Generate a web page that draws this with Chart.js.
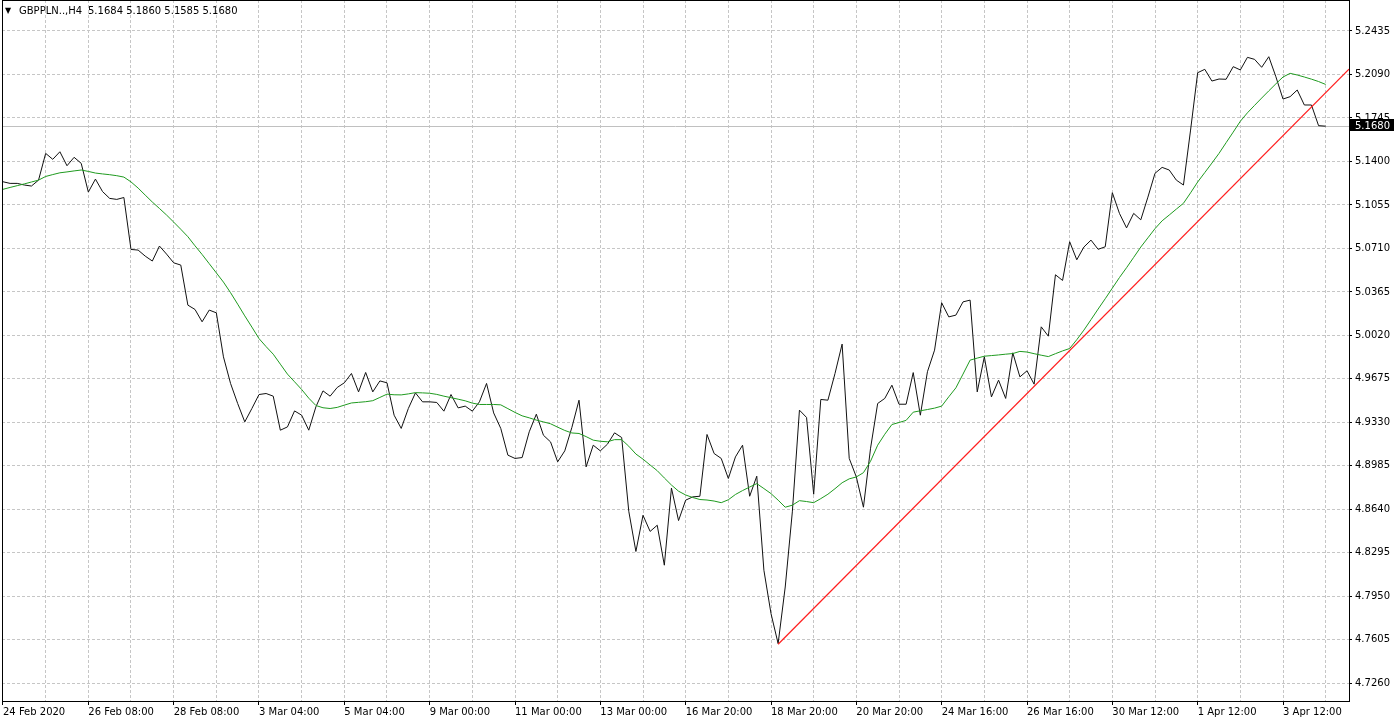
<!DOCTYPE html>
<html lang="en">
<head>
<meta charset="UTF-8">
<title>GBPPLN H4</title>
<script src="https://cdn.jsdelivr.net/npm/chart.js"></script>
<style>
  body { margin: 0; background: #fff; }
  .wrap { position: relative; width: 1400px; height: 722px; }
  .head { position: absolute; top: 5px; font: 10px/12px "DejaVu Sans", Tahoma, sans-serif; color: #000; white-space: pre; }
  .tri { left: 5px; font-size: 8px; }
</style>
</head>
<body>
<div class="wrap">
  <canvas id="grafico" width="1400" height="722"></canvas>
  <div class="head tri">▼</div>
  <div class="head" style="left:19px">GBPPLN..,H4</div>
  <div class="head" style="left:88px">5.1684 5.1860 5.1585 5.1680</div>
</div>

<script>
  // H4 closes, one per bar (bar 0 = 24 Feb 2020 00:00)
  const closes = [
    5.1239, 5.1226, 5.1226, 5.1213, 5.1205, 5.1252, 5.1464, 5.1417, 5.1477, 5.1366,
    5.1433, 5.1385, 5.1157, 5.1260, 5.1161, 5.1107, 5.1099, 5.1114, 5.0702, 5.0697,
    5.0649, 5.0610, 5.0729, 5.0665, 5.0596, 5.0578, 5.0260, 5.0226, 5.0128, 5.0221,
    5.0199, 4.9850, 4.9639, 4.9480, 4.9334, 4.9440, 4.9551, 4.9559, 4.9538, 4.9268,
    4.9294, 4.9421, 4.9387, 4.9268, 4.9453, 4.9580, 4.9538, 4.9607, 4.9644, 4.9718,
    4.9572, 4.9726, 4.9572, 4.9659, 4.9644, 4.9387, 4.9282, 4.9440, 4.9564, 4.9493,
    4.9493, 4.9488, 4.9419, 4.9551, 4.9445, 4.9459, 4.9419, 4.9493, 4.9639, 4.9405,
    4.9282, 4.9070, 4.9044, 4.9051, 4.9255, 4.9395, 4.9228, 4.9175, 4.9017, 4.9104,
    4.9290, 4.9506, 4.8977, 4.9149, 4.9104, 4.9157, 4.9247, 4.9210, 4.8625, 4.8306,
    4.8593, 4.8465, 4.8514, 4.8197, 4.8809, 4.8551, 4.8713, 4.8739, 4.8744, 4.9234,
    4.9083, 4.9044, 4.8885, 4.9056, 4.9149, 4.8744, 4.8903, 4.8157, 4.7813, 4.7575,
    4.8024, 4.8620, 4.9427, 4.9369, 4.8760, 4.9512, 4.9506, 4.9718, 4.9951, 4.9044,
    4.8897, 4.8657, 4.9125, 4.9480, 4.9520, 4.9625, 4.9474, 4.9474, 4.9725, 4.9387,
    4.9732, 4.9903, 5.0279, 5.0167, 5.0181, 5.0286, 5.0300, 4.9572, 4.9850, 4.9532,
    4.9665, 4.9520, 4.9882, 4.9691, 4.9739, 4.9633, 5.0088, 5.0014, 5.0501, 5.0456,
    5.0763, 5.0620, 5.0721, 5.0776, 5.0703, 5.0723, 5.1152, 5.0988, 5.0873, 5.0988,
    5.0937, 5.1117, 5.1306, 5.1353, 5.1332, 5.1252, 5.1213, 5.1649, 5.2104, 5.2131,
    5.2038, 5.2054, 5.2052, 5.2152, 5.2126, 5.2226, 5.2210, 5.2147, 5.2231, 5.2072,
    5.1895, 5.1914, 5.1967, 5.1848, 5.1848, 5.1684, 5.1680
  ];

  // moving average (green)
  const maValues = [
    5.1179, 5.1194, 5.1208, 5.1222, 5.1237, 5.1252, 5.1281, 5.1296, 5.1310, 5.1317,
    5.1325, 5.1332, 5.1321, 5.1308, 5.1301, 5.1295, 5.1287, 5.1276, 5.1238, 5.1189,
    5.1133, 5.1078, 5.1027, 5.0975, 5.0919, 5.0862, 5.0803, 5.0731, 5.0662, 5.0589,
    5.0516, 5.0443, 5.0359, 5.0268, 5.0175, 5.0086, 4.9995, 4.9931, 4.9871, 4.9792,
    4.9713, 4.9652, 4.9591, 4.9522, 4.9464, 4.9446, 4.9440, 4.9449, 4.9467, 4.9484,
    4.9489, 4.9494, 4.9502, 4.9528, 4.9554, 4.9549, 4.9548, 4.9556, 4.9566, 4.9564,
    4.9561, 4.9552, 4.9538, 4.9526, 4.9514, 4.9501, 4.9483, 4.9472, 4.9472, 4.9472,
    4.9469, 4.9439, 4.9409, 4.9382, 4.9366, 4.9348, 4.9334, 4.9319, 4.9292, 4.9266,
    4.9246, 4.9242, 4.9217, 4.9189, 4.9180, 4.9176, 4.9193, 4.9193, 4.9141, 4.9079,
    4.9038, 4.8992, 4.8947, 4.8889, 4.8833, 4.8784, 4.8754, 4.8734, 4.8718, 4.8714,
    4.8706, 4.8693, 4.8716, 4.8758, 4.8789, 4.8817, 4.8844, 4.8805, 4.8765, 4.8713,
    4.8657, 4.8673, 4.8709, 4.8702, 4.8693, 4.8725, 4.8760, 4.8804, 4.8851, 4.8882,
    4.8897, 4.8931, 4.9022, 4.9149, 4.9236, 4.9313, 4.9329, 4.9346, 4.9411, 4.9422,
    4.9432, 4.9443, 4.9459, 4.9533, 4.9604, 4.9713, 4.9824, 4.9840, 4.9855, 4.9860,
    4.9865, 4.9871, 4.9876, 4.9893, 4.9888, 4.9875, 4.9863, 4.9852, 4.9875, 4.9897,
    4.9916, 4.9986, 5.0062, 5.0145, 5.0229, 5.0311, 5.0395, 5.0479, 5.0557, 5.0639,
    5.0721, 5.0794, 5.0867, 5.0929, 5.0975, 5.1022, 5.1068, 5.1151, 5.1237, 5.1312,
    5.1387, 5.1464, 5.1549, 5.1633, 5.1719, 5.1786, 5.1845, 5.1903, 5.1960, 5.2016,
    5.2070, 5.2099, 5.2086, 5.2070, 5.2053, 5.2034, 5.2011
  ];

  // red trend line: from the 18 Mar low to the right edge
  const trendBars = [109, 189.28];
  const trendPrices = [4.7570, 5.2133];

  const xLabels = ['24 Feb 2020', '26 Feb 08:00', '28 Feb 08:00', '3 Mar 04:00', '5 Mar 04:00',
    '9 Mar 00:00', '11 Mar 00:00', '13 Mar 00:00', '16 Mar 20:00', '18 Mar 20:00', '20 Mar 20:00',
    '24 Mar 16:00', '26 Mar 16:00', '30 Mar 12:00', '1 Apr 12:00', '3 Apr 12:00'];
  const yLabels = ['4.7260', '4.7605', '4.7950', '4.8295', '4.8640', '4.8985', '4.9330', '4.9675',
    '5.0020', '5.0365', '5.0710', '5.1055', '5.1400', '5.1745', '5.2090', '5.2435'];

  const barsPerGrid = 6, barsPerLabel = 12;
  const xMin = -0.14, xMax = 189.28;
  const yMin = 4.71196, yMax = 5.26809;
  const FONT = { family: 'DejaVu Sans, Tahoma, sans-serif', size: 10 };
  const lastPrice = closes[closes.length - 1];

  const gridBars = [];
  for (let b = 0; b <= xMax; b += barsPerGrid) gridBars.push(b);

  const chartDecor = {
    id: 'chartDecor',
    beforeDatasetsDraw(chart) {
      const { ctx, chartArea: a, scales: { y } } = chart;
      const py = Math.round(y.getPixelForValue(lastPrice)) + 0.5;
      ctx.save();
      ctx.strokeStyle = '#c0c0c0';
      ctx.lineWidth = 1;
      ctx.beginPath();
      ctx.moveTo(a.left, py);
      ctx.lineTo(a.right, py);
      ctx.stroke();
      ctx.restore();
    },
    afterDraw(chart) {
      const { ctx, chartArea: a, scales: { y } } = chart;
      ctx.save();
      ctx.strokeStyle = '#000';
      ctx.lineWidth = 1;
      ctx.strokeRect(a.left + 0.5, a.top + 0.5, a.right - a.left, a.bottom - a.top);
      // price tag
      const py = Math.round(y.getPixelForValue(lastPrice));
      ctx.fillStyle = '#000';
      ctx.fillRect(a.right + 1, py - 7, 44, 12);
      ctx.fillStyle = '#fff';
      ctx.font = FONT.size + 'px ' + FONT.family;
      ctx.textBaseline = 'middle';
      ctx.fillText(lastPrice.toFixed(4), a.right + 6, py);
      ctx.restore();
    }
  };

  new Chart(document.getElementById('grafico'), {
    type: 'line',
    data: {
      datasets: [
        {
          label: 'trend',
          data: trendBars.map((b, i) => ({ x: b, y: trendPrices[i] })),
          borderColor: '#ff1e1e',
          borderWidth: 1.2
        },
        {
          label: 'MA',
          data: maValues.map((v, i) => ({ x: i, y: v })),
          borderColor: '#1f9a1f',
          borderWidth: 1
        },
        {
          label: 'GBPPLN',
          data: closes.map((v, i) => ({ x: i, y: v })),
          borderColor: '#111',
          borderWidth: 1
        }
      ]
    },
    options: {
      responsive: false,
      animation: false,
      devicePixelRatio: 1,
      layout: { padding: { left: 2, top: 0, right: 0, bottom: 0 } },
      plugins: { legend: { display: false }, tooltip: { enabled: false } },
      elements: { point: { radius: 0 }, line: { tension: 0 } },
      scales: {
        x: {
          type: 'linear',
          min: xMin,
          max: xMax,
          afterBuildTicks: s => { s.ticks = gridBars.map(v => ({ value: v })); },
          afterFit: s => { s.height = 21; s.paddingLeft = 0; s.paddingRight = 0; },
          ticks: {
            autoSkip: false,
            maxRotation: 0,
            align: 'start',
            padding: 1,
            color: '#000',
            font: FONT,
            callback: v => (v % barsPerLabel === 0 ? xLabels[v / barsPerLabel] : '')
          },
          grid: {
            color: '#c6c6c6',
            tickLength: 4,
            tickColor: '#000',
            tickWidth: c => (c.tick && c.tick.value % barsPerLabel === 0 ? 1 : 0),
            tickBorderDash: []
          },
          border: { color: '#000', dash: [3, 2] }
        },
        y: {
          position: 'right',
          min: yMin,
          max: yMax,
          afterBuildTicks: s => { s.ticks = yLabels.map(t => ({ value: parseFloat(t) })); },
          afterFit: s => { s.width = 51; s.paddingTop = 0; s.paddingBottom = 0; },
          ticks: {
            padding: 3,
            color: '#000',
            font: FONT,
            callback: (v, i) => yLabels[i]
          },
          grid: {
            color: '#c6c6c6',
            tickLength: 3,
            tickColor: '#000',
            tickBorderDash: []
          },
          border: { color: '#000', dash: [3, 2] }
        }
      }
    },
    plugins: [chartDecor]
  });
</script>
</body>
</html>
